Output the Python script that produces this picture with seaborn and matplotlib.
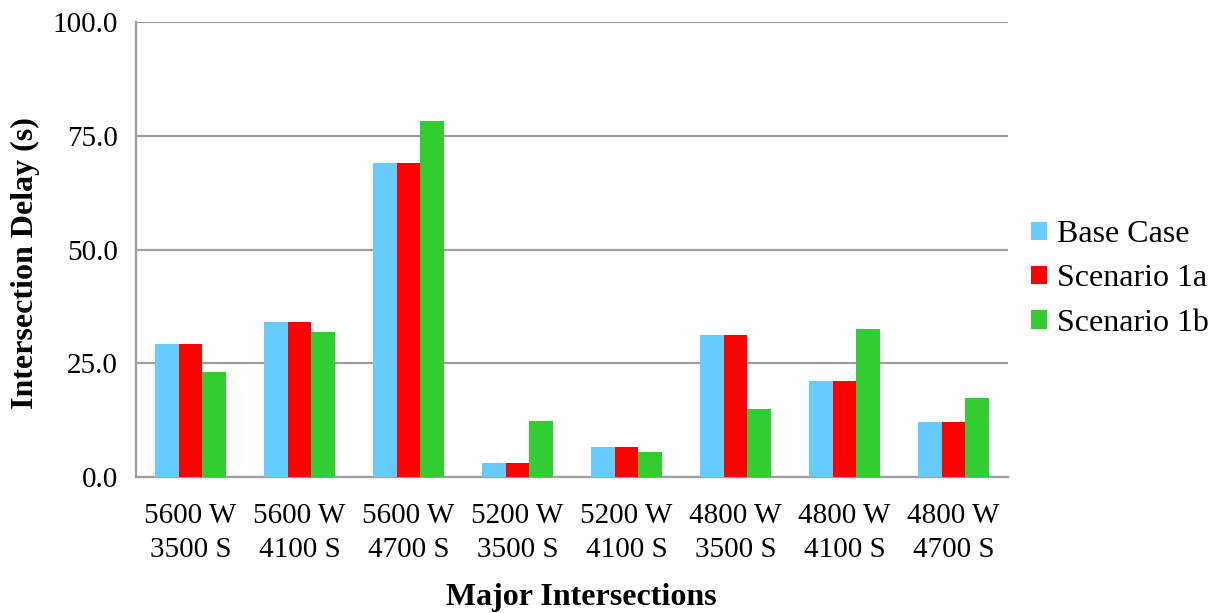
import matplotlib
matplotlib.use("Agg")
import matplotlib.pyplot as plt
from matplotlib.patches import Patch
import seaborn as sns
import pandas as pd
import numpy as np

intersections = ["5600 W\n3500 S", "5600 W\n4100 S", "5600 W\n4700 S", "5200 W\n3500 S",
                 "5200 W\n4100 S", "4800 W\n3500 S", "4800 W\n4100 S", "4800 W\n4700 S"]
scenarios = ["Base Case", "Scenario 1a", "Scenario 1b"]
base_case = [29.3, 34.0, 69.1, 3.0, 6.5, 31.1, 21.1, 12.1]
scenario_1a = [29.3, 34.0, 69.1, 3.0, 6.5, 31.1, 21.1, 12.1]
scenario_1b = [23.0, 31.8, 78.3, 12.3, 5.4, 15.0, 32.5, 17.3]
colors = ["#66CCFF", "#FF0000", "#33CC33"]

df = pd.DataFrame({
    "Intersection": intersections * 3,
    "Scenario": [s for s in scenarios for _ in intersections],
    "Delay": base_case + scenario_1a + scenario_1b,
})

sns.set_theme(style="white")
plt.rcParams["font.family"] = ["Liberation Serif", "DejaVu Serif"]
plt.rcParams["text.color"] = "black"
plt.rcParams["axes.labelcolor"] = "black"
plt.rcParams["xtick.labelcolor"] = "black"
plt.rcParams["ytick.labelcolor"] = "black"

W, H = 1216, 613
fig = plt.figure(figsize=(W / 100, H / 100), dpi=100)
ax = fig.add_axes([136 / W, 1 - 477 / H, (1008 - 136) / W, (477 - 22) / H])

sns.barplot(data=df, x="Intersection", y="Delay", hue="Scenario", order=intersections,
            hue_order=scenarios, palette=colors, width=0.66, saturation=1,
            errorbar=None, ax=ax, legend=False, linewidth=0, zorder=3)

grid_c = "#9E9E9E"
ax.set_ylim(0, 100)
ax.set_xlim(-0.5, len(intersections) - 0.5)
ax.set_yticks([0, 25, 50, 75, 100])
ax.set_yticklabels([f"{v:.1f}" for v in [0, 25, 50, 75, 100]], fontsize=21)
ax.yaxis.grid(True, color=grid_c, linewidth=1.6, zorder=0)
ax.set_axisbelow(True)

# category labels centered, tick marks between categories
ax.set_xticks(range(len(intersections)))
ax.set_xticklabels(intersections, fontsize=21, linespacing=1.38)
ax.set_xticks(np.arange(-0.5, len(intersections), 1.0), minor=True)
ax.tick_params(axis="x", which="major", length=0, pad=19)
ax.tick_params(axis="x", which="minor", length=8, width=1.6, color=grid_c, direction="out")
ax.tick_params(axis="y", length=6, width=1.6, color=grid_c, direction="out", pad=7)

for side in ["top", "right"]:
    ax.spines[side].set_visible(False)
for side in ["left", "bottom"]:
    ax.spines[side].set_color(grid_c)
    ax.spines[side].set_linewidth(1.6)

ax.set_xlabel("Major Intersections", fontsize=23, fontweight="bold")
ax.xaxis.set_label_coords((581 - 136) / 872, (477 - 598) / 455)
ax.xaxis.label.set_verticalalignment("center")
ax.set_ylabel("Intersection Delay (s)", fontsize=23, fontweight="bold")
ax.yaxis.set_label_coords((25 - 136) / 872, (477 - 263) / 455)
ax.yaxis.label.set_verticalalignment("center")

handles = [Patch(facecolor=c, edgecolor="none") for c in colors]
fig.legend(handles, scenarios, loc="center left", bbox_to_anchor=(1031 / W, 1 - 279 / H),
           frameon=False, fontsize=23, handlelength=0.5, handleheight=0.5, handletextpad=0.3,
           labelspacing=0.48, borderpad=0, borderaxespad=0)

fig.savefig("out.png", dpi=100)
